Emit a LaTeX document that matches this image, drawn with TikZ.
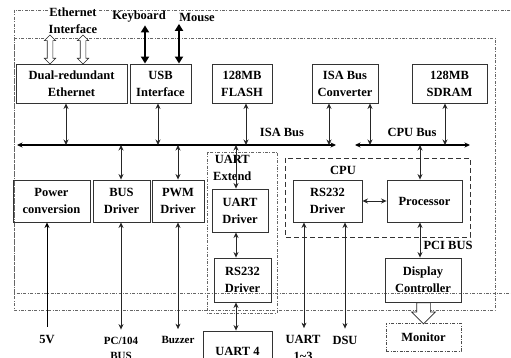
\documentclass[tikz,border=0pt]{standalone}
\usepackage{fontspec}
\setmainfont{Liberation Serif}
\usetikzlibrary{arrows.meta,shapes.arrows}

\begin{document}
\begin{tikzpicture}[x=1pt, y=-1pt,
        font=\fontsize{12.5}{17}\selectfont\bfseries,
        >={Stealth[length=5.5pt,width=5pt]},
        blk/.style={draw=black!80, line width=0.9pt, align=center, inner sep=1pt},
        link/.style={<->, line width=0.8pt, draw=black!85},
        bus/.style={<->, line width=1.1pt},
        frame/.style={draw=black!60, line width=0.8pt, dash pattern=on 3pt off 1.5pt on 0.8pt off 1.5pt},
        lbl/.style={align=center, inner sep=1pt},
        small/.style={font=\fontsize{11}{15}\selectfont\bfseries},
        hollow/.style={double arrow, draw=black!85, fill=white, line width=0.7pt, rotate=90,
            minimum height=29pt, inner sep=2.5pt, double arrow head extend=2.8pt},
        heavy/.style={{Triangle[length=7pt,width=8pt]}-{Triangle[length=7pt,width=8pt]}, line width=2.6pt}]
    \useasboundingbox (0,0) rectangle (511,358);

    % board outlines
    \draw[frame] (14,10) rectangle (530,293);
    \draw[frame] (14,38) rectangle (495,310);
    \draw[frame] (207,152) rectangle (277,313);
    \draw[black!80, line width=0.8pt, dash pattern=on 5pt off 3pt] (285,158) rectangle (470,237);
    \node[lbl, anchor=north west] (extlbl) at (212,154) {UART\\Extend};
    \node[lbl] (cpulbl) at (343,170) {CPU};

    % top row
    \node[blk, minimum width=111, minimum height=39] (eth) at (71.5,83.5) {Dual-redundant\\Ethernet};
    \node[blk, minimum width=61, minimum height=39] (usb) at (160.5,83.5) {USB\\Interface};
    \node[blk, minimum width=60, minimum height=39] (flash) at (242,83.5) {128MB\\FLASH};
    \node[blk, minimum width=66, minimum height=39] (isaconv) at (345,83.5) {ISA Bus\\Converter};
    \node[blk, minimum width=75, minimum height=39] (sdram) at (449.5,83.5) {128MB\\SDRAM};

    % external ports on top
    \node[lbl, fill=white] (ethlbl) at (73,21) {Ethernet\\Interface};
    \node[hollow] (ethA) at (50,49.5) {};
    \node[hollow] (ethB) at (83,49.5) {};
    \node[lbl] (kbd) at (139,17) {Keyboard};
    \node[lbl] (mouse) at (197,17) {Mouse};
    \draw[heavy, shorten <=1.5pt] (kbd.south -| 145,0) -- (usb.north -| 145,0);
    \draw[heavy, shorten <=1.5pt] (mouse.south -| 179,0) -- (usb.north -| 179,0);

    % buses
    \coordinate (isaL) at (17,145);
    \coordinate (isaR) at (336,145);
    \coordinate (cpuL) at (355,145);
    \coordinate (cpuR) at (470,145);
    \draw[bus] (isaL) -- (isaR);
    \draw[bus] (cpuL) -- (cpuR);
    \node[lbl] (isalbl) at (282,132) {ISA Bus};
    \node[lbl] (cpubuslbl) at (412,132) {CPU Bus};

    \draw[link] (eth.south -| 66,0) -- (isaL -| 66,0);
    \draw[link] (usb.south -| 158,0) -- (isaL -| 158,0);
    \draw[link] (flash.south -| 246,0) -- (isaL -| 246,0);
    \draw[link] (isaconv.south -| 329,0) -- (isaR -| 329,0);
    \draw[link] (isaconv.south -| 370,0) -- (cpuL -| 370,0);
    \draw[link] (sdram.south -| 445,0) -- (cpuL -| 445,0);

    % drivers
    \node[blk, minimum width=77, minimum height=42] (power) at (51.5,201) {Power\\conversion};
    \node[blk, minimum width=57, minimum height=42] (busdrv) at (121.5,201) {BUS\\Driver};
    \node[blk, minimum width=52, minimum height=42] (pwm) at (178,201) {PWM\\Driver};
    \node[blk, minimum width=56, minimum height=43] (uartdrv) at (240,210.5) {UART\\Driver};
    \node[blk, minimum width=57, minimum height=44] (rsext) at (242.5,280) {RS232\\Driver};
    \node[blk, minimum width=69, minimum height=40] (uartfour) at (237.5,351) {UART 4};

    \draw[link] (isaL -| 121,0) -- (busdrv.north -| 121,0);
    \draw[link] (isaL -| 178,0) -- (pwm.north -| 178,0);
    \draw[link] (isaL -| 236,0) -- (uartdrv.north -| 236,0);
    \draw[link] (uartdrv.south -| 236,0) -- (rsext.north -| 236,0);
    \draw[link] (rsext.south -| 236,0) -- (uartfour.north -| 236,0);

    % cpu module
    \node[blk, minimum width=69, minimum height=42] (rscpu) at (327.5,201) {RS232\\Driver};
    \node[blk, minimum width=75, minimum height=42] (proc) at (424.5,201) {Processor};
    \node[blk, minimum width=76, minimum height=44] (disp) at (423,280) {Display\\Controller};
    \node[blk, draw=black!70, dash pattern=on 3pt off 1.5pt on 0.8pt off 1.5pt,
        minimum width=75, minimum height=28] (monitor) at (423.5,337) {Monitor};
    \node[lbl] (pcilbl) at (448,245) {PCI BUS};

    \draw[link] (rscpu) -- (proc);
    \draw[link] (cpuL -| 420,0) -- (proc.north -| 420,0);
    \draw[link] (proc.south -| 420,0) -- (disp.north -| 420,0);
    \node[single arrow, draw=black!85, fill=white, line width=0.7pt, rotate=-90, anchor=tail,
        minimum height=21pt, inner sep=6.5pt, single arrow head extend=5pt] (disparr) at (disp.south -| 423.5,0) {};

    % outside connections
    \node[lbl] (vfive) at (47,340) {5V};
    \node[lbl, small] (pcbus) at (121,348) {PC/104\\BUS};
    \node[lbl, small] (buzzer) at (178,340) {Buzzer};
    \node[lbl] (uartext) at (303,348) {UART\\1\textasciitilde3};
    \node[lbl] (dsu) at (345,340) {DSU};

    \draw[line width=0.8pt, <-, shorten >=8pt] (power.south -| 47,0) -- (vfive.north -| 47,0);
    \draw[link, shorten >=6pt] (busdrv.south -| 121,0) -- (pcbus.north -| 121,0);
    \draw[link, shorten >=6pt] (pwm.south -| 178,0) -- (buzzer.north -| 178,0);
    \draw[link, shorten >=6pt] (rscpu.south -| 304,0) -- (uartext.north -| 304,0);
    \draw[link, shorten >=6pt] (rscpu.south -| 345,0) -- (dsu.north -| 345,0);
\end{tikzpicture}
\end{document}
